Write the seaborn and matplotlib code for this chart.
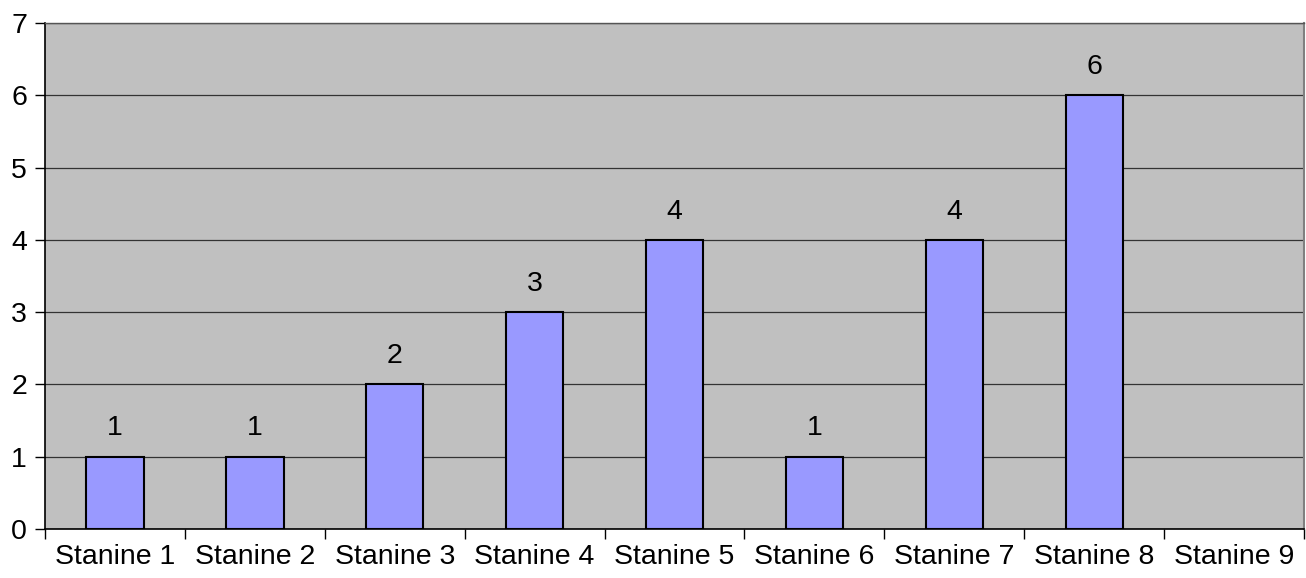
import matplotlib
matplotlib.use("Agg")
import matplotlib.pyplot as plt
import seaborn as sns
import pandas as pd
import numpy as np

categories = ["Stanine 1", "Stanine 2", "Stanine 3", "Stanine 4", "Stanine 5",
              "Stanine 6", "Stanine 7", "Stanine 8", "Stanine 9"]
counts = [1, 1, 2, 3, 4, 1, 4, 6, 0]
y_ticks = [0, 1, 2, 3, 4, 5, 6, 7]

sns.set_style("white")
plt.rcParams["font.family"] = ["Liberation Sans", "DejaVu Sans"]
plt.rcParams["text.color"] = "black"
plt.rcParams["xtick.color"] = "black"
plt.rcParams["ytick.color"] = "black"
plt.rcParams["xtick.labelcolor"] = "black"
plt.rcParams["ytick.labelcolor"] = "black"

FS = 20.5

df = pd.DataFrame({"stanine": categories, "count": counts})

fig = plt.figure(figsize=(13.06, 5.78), dpi=100)
ax = fig.add_axes([0.0345, 0.0848, 0.9640, 0.8755])
ax.set_facecolor("#C0C0C0")

sns.barplot(data=df, x="stanine", y="count", color="#9999FF", width=0.41,
            edgecolor="black", linewidth=1.5, saturation=1, ax=ax, zorder=3)

# empty categories get no outline
for bar, v in zip(ax.containers[0], counts):
    if v == 0:
        bar.set_linewidth(0)

labels = [str(v) if v else "" for v in counts]
ax.bar_label(ax.containers[0], labels=labels, padding=11, fontsize=FS, color="black")

ax.set_ylim(0, 7)
ax.set_xlim(-0.5, len(categories) - 0.5)
ax.set_yticks(y_ticks)
ax.yaxis.grid(True, color="#333333", linewidth=0.9, zorder=0)
ax.set_axisbelow(True)

# category boundaries carry the x tick marks; labels sit at the centres
ax.set_xticks(np.arange(len(categories)))
ax.set_xticks(np.arange(len(categories) + 1) - 0.5, minor=True)
ax.tick_params(axis="x", which="major", length=0, labelsize=FS, pad=11)
ax.tick_params(axis="x", which="minor", length=7, width=1, color="black", direction="out")
ax.tick_params(axis="y", length=7, width=1, color="black", direction="out", labelsize=FS, pad=6)
ax.xaxis.set_ticks_position("bottom")
ax.yaxis.set_ticks_position("left")

ax.set_xlabel("")
ax.set_ylabel("")

for side in ("left", "bottom"):
    ax.spines[side].set_color("black")
    ax.spines[side].set_linewidth(1.2)
ax.spines["top"].set_color("#555555")
ax.spines["top"].set_linewidth(1.0)
ax.spines["right"].set_color("#808080")
ax.spines["right"].set_linewidth(1.5)

fig.savefig("out.png", dpi=100)
